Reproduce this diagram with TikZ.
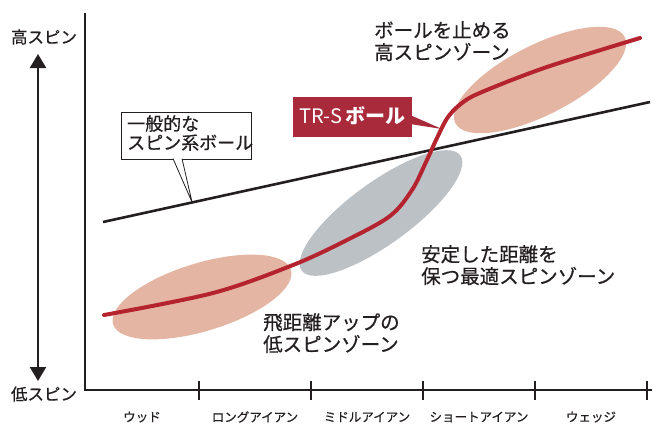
\documentclass[tikz,border=0pt]{standalone}
\usepackage{fontspec}
\newfontfamily\jp[FakeBold=0.6]{Noto Sans CJK JP}
\newfontfamily\jpr{Noto Sans CJK JP}
\usetikzlibrary{arrows.meta}
\definecolor{txt}{HTML}{231F20}
\definecolor{pinkz}{HTML}{E4B5A3}
\definecolor{greyz}{HTML}{BCC1C6}
\definecolor{redc}{HTML}{B5232F}
\definecolor{boxred}{HTML}{A82A3B}
\tikzset{
  lbl/.style={font=\jp\fontsize{19.5}{22}\selectfont, text=txt, align=left, inner sep=0pt},
  axlbl/.style={font=\jp\fontsize{16.5}{18}\selectfont, text=txt, inner sep=0pt},
  ticklbl/.style={font=\jp\fontsize{12.5}{13}\selectfont, text=txt, inner sep=0pt},
  axisline/.style={line width=2.2pt, draw=txt},
}
\begin{document}
\begin{tikzpicture}[x=1pt,y=-1pt]
\useasboundingbox (0,0) rectangle (656,424);
% zones
\fill[pinkz, rotate around={17:(202,297)}] (202,297) ellipse [x radius=93, y radius=34];
\fill[greyz, rotate around={36:(381,213)}] (381,213) ellipse [x radius=98, y radius=31];
\fill[pinkz, rotate around={27:(540,80)}] (540,80) ellipse [x radius=95, y radius=35];
% axes
\coordinate (o) at (85,390);
\coordinate (ytop) at (85,13);
\coordinate (xend) at (652,390);
\draw[axisline] (ytop) -- (o) -- (xend);
\foreach \x in {199,311,423,535,647}{
  \draw[line width=1.8pt, draw=txt] (\x,381) -- (\x,400);
}
% y arrow
\coordinate (aup) at (38,54);
\coordinate (adn) at (38,381);
\draw[line width=2.2pt, draw=txt, {Triangle[width=16pt,length=14pt]}-{Triangle[width=16pt,length=14pt]}] (aup) -- (adn);
\node[axlbl] (hi) at (44,37) {高スピン};
\node[axlbl] (lo) at (44,394) {低スピン};
% tick labels
\node[ticklbl] (t1) at (142,417) {ウッド};
\node[ticklbl] (t2) at (255,417) {ロングアイアン};
\node[ticklbl] (t3) at (367,417) {ミドルアイアン};
\node[ticklbl] (t4) at (479,417) {ショートアイアン};
\node[ticklbl] (t5) at (591,417) {ウェッジ};
% general ball line
\coordinate (g0) at (103,222);
\coordinate (g1) at (650,102);
\draw[line width=2.6pt, draw=txt] (g0) -- (g1);
% general callout
\coordinate (gp) at (192,202);
\node[draw=txt, line width=0.8pt, fill=white, minimum width=130pt, minimum height=47pt, inner sep=0pt] (gbox) at (186,135.5) {};
\node[font=\jp\fontsize{18}{19}\selectfont, text=txt, align=left, inner sep=0pt, anchor=north west] (gtext) at (127,115) {一般的な\\スピン系ボール};
\draw[line width=0.8pt, draw=txt, fill=white] (173,158.6) -- (gp) -- (182,158.6);
% red curve
\draw[line width=4pt, draw=redc, line cap=round] plot[smooth, tension=0.55] coordinates {(104,315) (213,293) (293,265) (347,240) (390,216) (412,190) (426,162) (437,138) (448,117) (462,103) (482,92) (547,67) (640,38)};
% TR-S box
\coordinate (tp) at (442,129);
\fill[boxred] (410,115) -- (tp) -- (410,124) -- cycle;
\node[fill=boxred, minimum width=119pt, minimum height=40pt, inner sep=0pt] (trs) at (352.5,117) {};
\node[font=\jpr\fontsize{20}{20}\selectfont, text=white, inner sep=0pt] (trst) at (352.5,116) {TR-S\,\textbf{ボール}};
% zone labels
\node[lbl, anchor=north west] (zhi) at (374,21) {ボールを止める\\高スピンゾーン};
\node[lbl, anchor=north west] (zmid) at (421,245) {安定した距離を\\保つ最適スピンゾーン};
\node[lbl, anchor=north west] (zlo) at (263,313) {飛距離アップの\\低スピンゾーン};
\end{tikzpicture}
\end{document}
